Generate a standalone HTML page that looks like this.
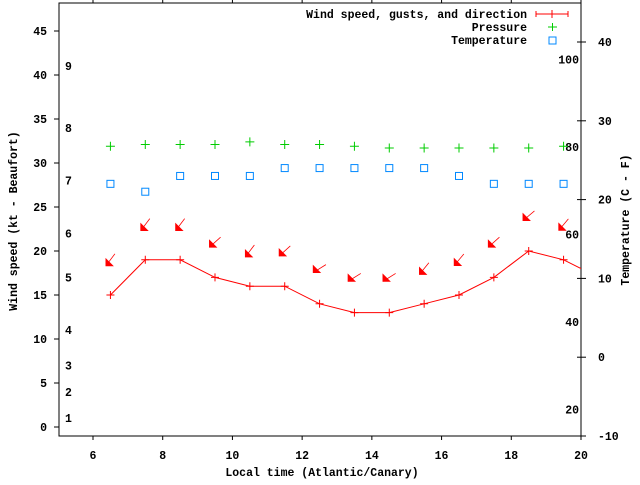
<!DOCTYPE html>
<html><head><meta charset="utf-8"><style>
body{margin:0;background:#fff}
svg text{font-family:"Liberation Mono",monospace;font-weight:bold;font-size:11.5px;fill:#000}
</style></head><body>
<svg id="chart" width="640" height="480" xmlns="http://www.w3.org/2000/svg">
<defs><clipPath id="clip"><rect x="59" y="3" width="522" height="433"/></clipPath></defs>
<rect x="59" y="3" width="522" height="433" fill="none" stroke="#000" stroke-width="1"/>
<g id="axes"></g>
<g id="series"></g>
<text x="322" y="476" text-anchor="middle">Local time (Atlantic/Canary)</text>
<text transform="translate(17,221) rotate(-90)" text-anchor="middle">Wind speed (kt - Beaufort)</text>
<text transform="translate(629,220) rotate(-90)" text-anchor="middle">Temperature (C - F)</text>
<g>
<text x="527" y="18" text-anchor="end">Wind speed, gusts, and direction</text>
<path d="M536 14H568M536 11V17M568 11V17M552 10V18" stroke="#f00" fill="none"/>
<text x="527" y="31" text-anchor="end">Pressure</text>
<path d="M548 27H557M552.5 23V31" stroke="#0c0" fill="none"/>
<text x="527" y="44" text-anchor="end">Temperature</text>
<rect x="549" y="37" width="7" height="7" fill="none" stroke="#08f"/>
</g>
</svg>
<script>
const times=[6.5,7.5,8.5,9.5,10.5,11.5,12.5,13.5,14.5,15.5,16.5,17.5,18.5,19.5,20.5];
const wind=[15,19,19,17,16,16,14,13,13,14,15,17,20,19,17];
const gusts=[19,23,23,21,20,20,18,17,17,18,19,21,24,23];
const dirs=[37,37,37,48,37,48,58,58,58,39,40,48,50,40];
const pressure=[31.9,32.1,32.1,32.1,32.4,32.1,32.1,31.9,31.7,31.7,31.7,31.7,31.7,31.9];
const temps=[22,21,23,23,23,24,24,24,24,24,23,22,22,22];
const xTicks=[6,8,10,12,14,16,18,20];
const yTicks=[0,5,10,15,20,25,30,35,40,45];
const y2Ticks=[-10,0,10,20,30,40];
const beaufort=[1,2,3,4,5,6,7,8,9];
const beaufortKt=[1,4,7,11,17,22,28,34,41];
const fahr=[20,40,60,80,100];

const NS="http://www.w3.org/2000/svg";
const X=t=>93+(t-6)*34.857;
const Y=v=>427-v*8.8;
const Y2=c=>436-(c+10)*7.88;
const axes=document.getElementById('axes'), ser=document.getElementById('series');
function mk(tag,attrs,parent){const e=document.createElementNS(NS,tag);for(const k in attrs)e.setAttribute(k,attrs[k]);parent.appendChild(e);return e;}

xTicks.forEach(t=>{
  const tk=mk('path',{d:`M${X(t)} 436V440M${X(t)} 3V-1`,stroke:'#000'},axes);
  
  
  const tx=mk('text',{x:X(t),y:459,'text-anchor':'middle'},axes);tx.textContent=t;
  
  
});
yTicks.forEach(v=>{
  const tk=mk('path',{d:`M54 ${Y(v)}H59`,stroke:'#000'},axes);
  
  
  const tx=mk('text',{x:47,y:Y(v)+4,'text-anchor':'end'},axes);tx.textContent=v;
  
  
});
y2Ticks.forEach(c=>{
  const tk=mk('path',{d:`M577 ${Y2(c)}H586`,stroke:'#000'},axes);
  
  
  const tx=mk('text',{x:598,y:Y2(c)+4},axes);tx.textContent=c;
  
  
});
beaufort.forEach((b,i)=>{
  const tx=mk('text',{x:65,y:Y(beaufortKt[i])+4},axes);tx.textContent=b;
  
  
});
fahr.forEach(f=>{
  const tx=mk('text',{x:579,y:Y2((f-32)*5/9)+4,'text-anchor':'end'},axes);tx.textContent=f;
  
  
});

const g=mk('g',{'clip-path':'url(#clip)'},ser);


const line=mk('polyline',{points:times.map((t,i)=>X(t)+','+Y(wind[i])).join(' '),fill:'none',stroke:'#f00'},g);


times.forEach((t,i)=>{
  if(t>20)return;
  const x=X(t),y=Y(wind[i]);
  const p=mk('path',{d:`M${x-4} ${y}H${x+4}M${x} ${y-4}V${y+4}`,stroke:'#f00'},g);
  
  
});
gusts.forEach((v,i)=>{
  const cx=X(times[i]),cy=Y(v),a=dirs[i]*Math.PI/180,L=7.5;
  const ux=-Math.sin(a),uy=Math.cos(a);
  const tx=cx+ux*L,ty=cy+uy*L,sx=cx-ux*L,sy=cy-uy*L;
  const ar=mk('g',{},g);
  
  
  mk('path',{d:`M${sx} ${sy}L${tx} ${ty}`,stroke:'#f00','stroke-width':0.8},ar);
  mk('path',{d:`M${tx} ${ty}L${tx} ${ty-7}L${tx+7} ${ty}Z`,fill:'#f00',stroke:'#f00','stroke-width':0.8},ar);
});
pressure.forEach((v,i)=>{
  const x=X(times[i]),y=Y(v);
  const p=mk('path',{d:`M${x-4.5} ${y}H${x+4.5}M${x} ${y-4.5}V${y+4.5}`,stroke:'#0c0'},g);
  
  
});
temps.forEach((c,i)=>{
  const x=X(times[i]),y=Y2(c);
  const r=mk('rect',{x:x-3.5,y:y-3.5,width:7,height:7,fill:'none',stroke:'#08f'},g);
  
  
});
</script>
</body></html>
